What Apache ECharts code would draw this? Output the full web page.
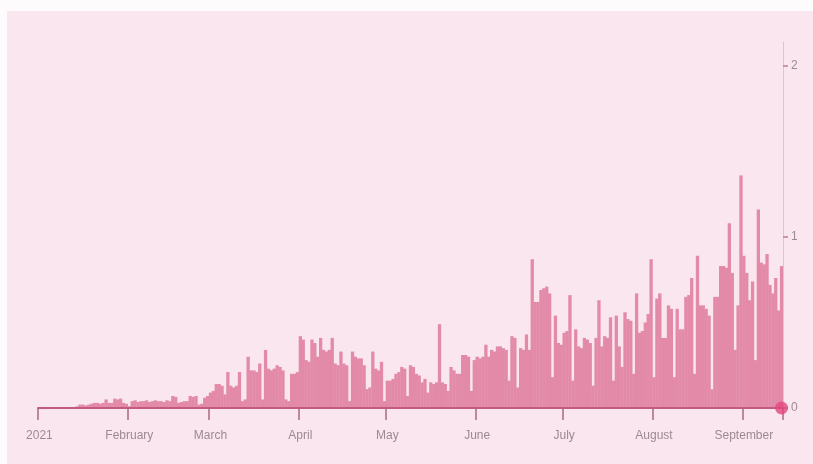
<!DOCTYPE html>
<html>
<head>
<meta charset="utf-8">
<script src="https://cdn.jsdelivr.net/npm/echarts@6/dist/echarts.min.js"></script>
<style>
  html, body { margin: 0; padding: 0; background: #fefbfc; }
  #panel { position: absolute; left: 7px; top: 11px; width: 806px; height: 453px; background: #fae6ee; }
  #chart { position: absolute; left: 0; top: 0; width: 813px; height: 464px; }
</style>
</head>
<body>
<div id="panel"></div>
<div id="chart"></div>
<script>
// daily values, one array per month (2021)
const jan = [0, 0, 0, 0, 0, 0, 0, 0, 0, 0, 0.005, 0, 0.005, 0.01,
  0.02, 0.02, 0.015, 0.02, 0.025, 0.03, 0.03, 0.025, 0.03, 0.05, 0.03, 0.03,
  0.055, 0.05, 0.055, 0.03, 0.025];
const feb = [0.01, 0.04, 0.045, 0.035, 0.04, 0.04, 0.045, 0.035, 0.04, 0.045, 0.04,
  0.04, 0.035, 0.045, 0.04, 0.07, 0.065, 0.03, 0.035, 0.04, 0.04, 0.07, 0.065, 0.07,
  0.02, 0.025, 0.06, 0.07];
const mar = [0.09, 0.1, 0.14, 0.14, 0.13, 0.08, 0.21, 0.13, 0.12, 0.13, 0.21, 0.04, 0.05,
  0.3, 0.22, 0.22, 0.21, 0.26, 0.05, 0.34, 0.23, 0.22, 0.23, 0.25, 0.24, 0.22, 0.05, 0.04,
  0.2, 0.2, 0.21];
const apr = [0.42, 0.4, 0.28, 0.27, 0.4, 0.38, 0.3, 0.41, 0.34, 0.33, 0.34, 0.41, 0.26, 0.25,
  0.33, 0.26, 0.25, 0.04, 0.33, 0.3, 0.29, 0.29, 0.25, 0.11, 0.12, 0.33, 0.23, 0.22, 0.27, 0.04];
const may = [0.16, 0.16, 0.17, 0.2, 0.21, 0.24, 0.23, 0.07, 0.25, 0.24, 0.2, 0.19, 0.15, 0.17,
  0.09, 0.15, 0.14, 0.15, 0.49, 0.15, 0.14, 0.1, 0.24, 0.22, 0.2, 0.2, 0.31, 0.31, 0.3, 0.1, 0.28];
const jun = [0.3, 0.29, 0.3, 0.37, 0.3, 0.34, 0.33, 0.36, 0.36, 0.35, 0.34, 0.16, 0.42, 0.41,
  0.12, 0.35, 0.34, 0.43, 0.34, 0.87, 0.62, 0.62, 0.69, 0.7, 0.71, 0.67, 0.18, 0.54, 0.38, 0.37];
const jul = [0.44, 0.45, 0.66, 0.16, 0.46, 0.36, 0.35, 0.41, 0.4, 0.38, 0.13, 0.41, 0.63, 0.36,
  0.42, 0.41, 0.53, 0.16, 0.54, 0.36, 0.24, 0.56, 0.52, 0.51, 0.2, 0.67, 0.44, 0.45, 0.5, 0.55, 0.87];
const aug = [0.18, 0.64, 0.67, 0.41, 0.41, 0.6, 0.58, 0.18, 0.58, 0.46, 0.46, 0.65, 0.66, 0.76,
  0.2, 0.89, 0.6, 0.6, 0.58, 0.54, 0.11, 0.65, 0.65, 0.83, 0.83, 0.82, 1.08, 0.79, 0.34, 0.6, 1.36];
const sep = [0.89, 0.79, 0.63, 0.74, 0.28, 1.16, 0.85, 0.84, 0.9, 0.72, 0.67, 0.76, 0.57, 0.83];

const monthLabels = ['2021', 'February', 'March', 'April', 'May', 'June', 'July', 'August', 'September'];
const yTicks = [0, 1, 2];

const values = [].concat(jan, feb, mar, apr, may, jun, jul, aug, sep);

// one category per day, starting 2021-01-01
const days = values.map((v, i) => {
  const d = new Date(Date.UTC(2021, 0, 1 + i));
  return d.toISOString().slice(0, 10);
});

// look the day up by index, the value arg is not always the label
const isMonthStart = (index) => {
  const day = days[index];
  return !!day && day.slice(8) === '01';
};

const chart = echarts.init(document.getElementById('chart'));

chart.setOption({
  animation: false,
  backgroundColor: 'transparent',
  grid: { left: 38, right: 30, top: 42, bottom: 56 },
  xAxis: {
    type: 'category',
    data: days,
    boundaryGap: true,
    z: 3,
    axisLine: { lineStyle: { color: '#c45a81', width: 2 } },
    axisTick: {
      show: true,
      interval: isMonthStart,
      length: 12,
      lineStyle: { color: '#a86a82', width: 1.5 }
    },
    axisLabel: {
      interval: isMonthStart,
      margin: 22,
      color: '#9c8a91',
      fontSize: 12,
      fontFamily: 'Liberation Sans',
      formatter: (value) => monthLabels[Number(value.slice(5, 7)) - 1]
    },
    splitLine: { show: false }
  },
  yAxis: {
    type: 'value',
    position: 'right',
    min: 0,
    max: 2.14,
    interval: 1,
    axisLine: { show: true, lineStyle: { color: '#efbccd', width: 1 } },
    axisTick: { show: true, length: 5, lineStyle: { color: '#c27a95', width: 1.5 } },
    axisLabel: {
      margin: 8,
      color: '#9c8a91',
      fontSize: 12,
      fontFamily: 'Liberation Sans',
      showMaxLabel: false,
      formatter: (v) => (yTicks.indexOf(v) >= 0 ? String(v) : '')
    },
    splitLine: { show: false }
  },
  series: [
    {
      type: 'bar',
      data: values,
      barWidth: 3.3,
      itemStyle: { color: '#e28aa8' },
      z: 2
    },
    {
      type: 'scatter',
      data: [[days[days.length - 1], 0]],
      symbol: 'circle',
      symbolSize: 13,
      itemStyle: { color: '#e2467d' },
      z: 5
    }
  ]
});
</script>
</body>
</html>
